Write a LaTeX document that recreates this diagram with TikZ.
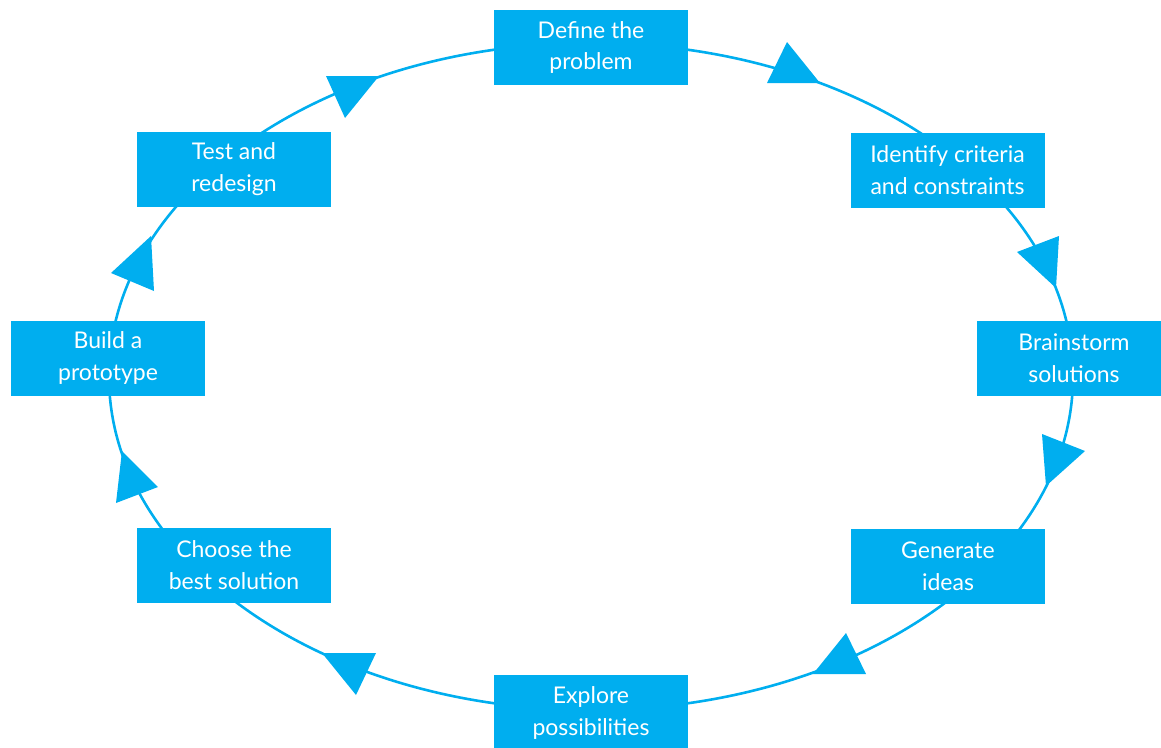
\documentclass[tikz,border=0pt]{standalone}
\usepackage{fontspec}
\setmainfont{Lato}
\usepackage{xcolor}
\usetikzlibrary{positioning}
\definecolor{cyc}{HTML}{00AEEF}
\tikzset{
    stage/.style={fill=cyc, text=white, align=center, inner sep=0pt,
        minimum width=194pt, minimum height=75pt,
        font=\fontsize{23}{32}\selectfont},
    ring/.style={draw=cyc, line width=2.6pt},
    head/.style={fill=cyc},
}

\begin{document}
\begin{tikzpicture}[x=1pt, y=-1pt]
    \useasboundingbox (0,0) rectangle (1161,747);
    % the cycle itself
    \draw[ring] (591,376.5) ellipse [x radius=482, y radius=333.5];
    % arrow heads on the ring
    \fill[head] (767,83) -- (820,83) -- (787,42) -- cycle;
    \fill[head] (1017,252) -- (1059,236) -- (1056,288) -- cycle;
    \fill[head] (1042,434) -- (1085,451) -- (1046,486) -- cycle;
    \fill[head] (846,633) -- (866,674) -- (813,674) -- cycle;
    \fill[head] (322,653) -- (376,653) -- (356,695) -- cycle;
    \fill[head] (122,451) -- (158,487) -- (116,503) -- cycle;
    \fill[head] (151,236) -- (154,291) -- (111,273) -- cycle;
    \fill[head] (326,76) -- (379,76) -- (345,118) -- cycle;
    % the steps
    \node[stage] (define) at (591,47.5) {Define the\\problem};
    \node[stage] (criteria) at (947.5,170) {Identify criteria\\and constraints};
    \node[stage] (brainstorm) at (1074,358) {Brainstorm\\solutions};
    \node[stage] (ideas) at (948,566) {Generate\\ideas};
    \node[stage] (explore) at (591,712.5) {Explore\\possibilities};
    \node[stage] (choose) at (234,565) {Choose the\\best solution};
    \node[stage] (build) at (108,358) {Build a\\prototype};
    \node[stage] (test) at (234,169) {Test and\\redesign};
\end{tikzpicture}
\end{document}
